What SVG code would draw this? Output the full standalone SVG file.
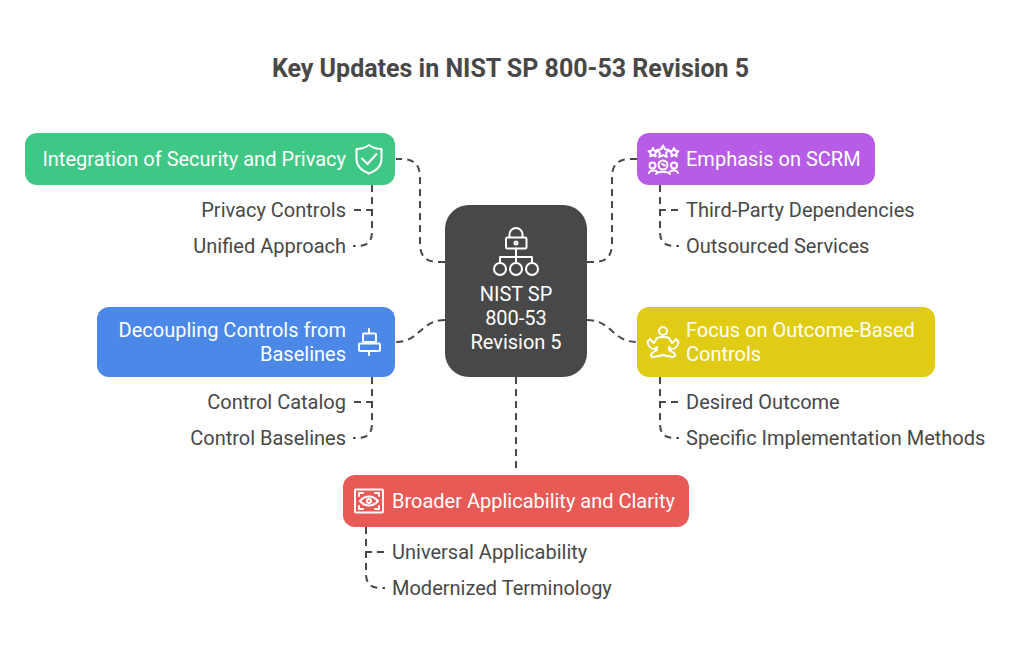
<svg xmlns="http://www.w3.org/2000/svg" width="1020" height="648" viewBox="0 0 1020 648">
<style>
text{font-family:Roboto,"Liberation Sans",sans-serif;font-size:20px}
.t{font-size:25px;font-weight:700;fill:#484848;text-anchor:middle}
.w{fill:#fff;font-weight:400}
.g{fill:#484848}
.e{text-anchor:end}
.m{text-anchor:middle}
.c{fill:none;stroke:#484848;stroke-width:2;stroke-dasharray:7 5}
.i{fill:none;stroke:#fff;stroke-width:2;stroke-linecap:round;stroke-linejoin:round}
</style>
<rect width="1020" height="648" fill="#fff"/>
<text id="title" class="t" x="510.500" y="77">Key Updates in NIST SP 800-53 Revision 5</text>
<g id="connectors">
<path class="c" d="M445 262H438Q420 262 420 244V177Q420 159 402 159H396"/>
<path class="c" d="M587 262H594Q612 262 612 244V177Q612 159 630 159H637"/>
<path class="c" d="M445 320C420 320 420 342 396 342"/>
<path class="c" d="M587 320C612 320 612 342 637 342"/>
<path class="c" d="M516 377V470"/>
<path class="c" d="M372 185V232Q372 246 358 246H353"/>
<path class="c" d="M354 210H372"/>
<path class="c" d="M660 185V232Q660 246 674 246H679"/>
<path class="c" d="M678 210H660"/>
<path class="c" d="M372 377V424Q372 438 358 438H353"/>
<path class="c" d="M354 402H372"/>
<path class="c" d="M660 377V424Q660 438 674 438H679"/>
<path class="c" d="M678 402H660"/>
<path class="c" d="M366 527V574Q366 588 380 588H385"/>
<path class="c" d="M384 552H366"/>
</g>
<g id="center">
<rect x="445" y="205" width="142" height="172" rx="24" fill="#484848"/>
<g class="i">
<path d="M509.500 237V234.500a6.500 6.500 0 0 1 13 0V237"/>
<rect x="506" y="237.500" width="20.500" height="11" rx="1.500"/>
<circle cx="516" cy="243" r="1.500"/>
<path d="M516 248.500V257M500 263V257H532V263M516 257V263"/>
<circle cx="500" cy="269" r="6"/><circle cx="516" cy="269" r="6"/><circle cx="532" cy="269" r="6"/>
</g>
<text class="w m" x="516" y="301">NIST SP</text>
<text class="w m" x="516" y="325">800-53</text>
<text class="w m" x="516" y="349">Revision 5</text>
</g>
<g id="security">
<rect x="25" y="133" width="370" height="52" rx="12" fill="#3ec785"/>
<text class="w e" x="346" y="166">Integration of Security and Privacy</text>
<path class="i" d="M369 145C365 148 361 149 356.500 149V159C356.500 166 361 170.500 369 173.500C377 170.500 381.500 166 381.500 159V149C377 149 373 148 369 145ZM362 158.500L367.500 164L376.500 154"/>
</g>
<g id="privacy-controls"><text class="g e" x="346" y="217">Privacy Controls</text></g>
<g id="unified-approach"><text class="g e" x="346" y="253">Unified Approach</text></g>
<g id="scrm">
<rect x="637" y="133" width="238" height="52" rx="12" fill="#b75ce6"/>
<g class="i" stroke-width="1.800">
<path d="M663 145.500l1.900 3.800 4.200.6-3 3 .7 4.200-3.800-2-3.800 2 .7-4.200-3-3 4.200-.6z"/>
<path d="M653 148l1.400 2.800 3 .5-2.200 2.100.5 3-2.700-1.400-2.700 1.400.5-3-2.200-2.100 3-.5z"/>
<path d="M674 148l1.400 2.800 3 .5-2.200 2.100.5 3-2.700-1.400-2.700 1.400.5-3-2.200-2.100 3-.5z"/>
<circle cx="663" cy="165" r="4.500"/><circle cx="652.500" cy="165.500" r="3"/><circle cx="674" cy="165.500" r="3"/>
<path d="M662 164l3 1.500M649 173c1-3 6-3 8-1.500M678 173c-1-3-6-3-8-1.500M656 174c2-3 12-3 14 0"/>
</g>
<text class="w" x="686" y="166">Emphasis on SCRM</text>
</g>
<g id="third-party"><text class="g" x="686" y="217">Third-Party Dependencies</text></g>
<g id="outsourced"><text class="g" x="686" y="253">Outsourced Services</text></g>
<g id="decoupling">
<rect x="97" y="307" width="298" height="70" rx="12" fill="#4c88e8"/>
<text class="w e" x="346" y="337">Decoupling Controls from</text>
<text class="w e" x="346" y="361">Baselines</text>
<path class="i" d="M369 329V333M369 342V343.500M369 351V355"/>
<rect class="i" x="363" y="333.500" width="13" height="8.500" rx="1"/>
<rect class="i" x="359" y="343.500" width="21" height="7.500" rx="1"/>
</g>
<g id="control-catalog"><text class="g e" x="346" y="409">Control Catalog</text></g>
<g id="control-baselines"><text class="g e" x="346" y="445">Control Baselines</text></g>
<g id="outcome">
<rect x="637" y="307" width="298" height="70" rx="12" fill="#e0cc14"/>
<g class="i">
<circle cx="663" cy="331" r="4"/>
<path d="M657 338C660 336.500 666 336.500 669 338L672 343C674 342 675 340 676 339L678.500 342C678 346 675 349 671 349L669 347V350L674 353C676 355 675 357 673 357L661 355"/>
<path d="M657 338L654 343C652 342 651 340 650 339L647.500 342C648 346 651 349 655 349L657 347V350L652 353C650 355 651 357 653 357L665 355"/>
</g>
<text class="w" x="686" y="337">Focus on Outcome-Based</text>
<text class="w" x="686" y="361">Controls</text>
</g>
<g id="desired"><text class="g" x="686" y="409">Desired Outcome</text></g>
<g id="specific"><text class="g" x="686" y="445">Specific Implementation Methods</text></g>
<g id="broader">
<rect x="343" y="475" width="346" height="52" rx="12" fill="#e85a55"/>
<g class="i">
<rect x="355" y="489.500" width="28" height="23" rx="1"/>
<path d="M359 496V493H363M375 493H379V496M379 506V509H375M363 509H359V506"/>
<path d="M360 501C365 495 373 495 378 501C373 507 365 507 360 501Z"/>
<circle cx="369" cy="501" r="2"/>
</g>
<text class="w" x="392" y="508">Broader Applicability and Clarity</text>
</g>
<g id="universal"><text class="g" x="392" y="559">Universal Applicability</text></g>
<g id="modernized"><text class="g" x="392" y="595">Modernized Terminology</text></g>
</svg>
